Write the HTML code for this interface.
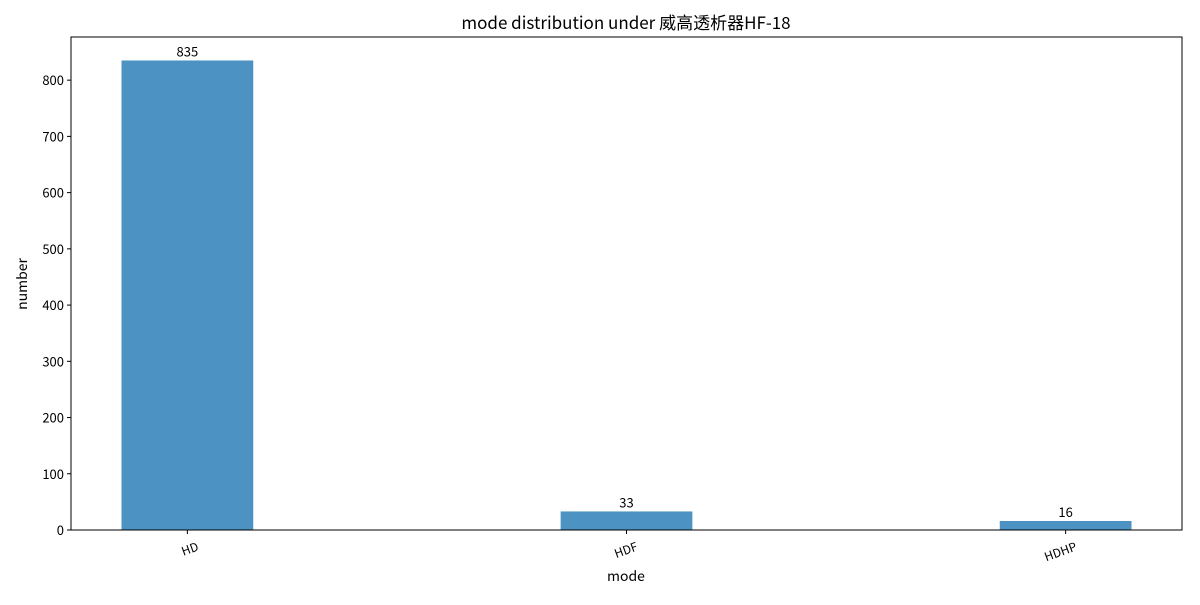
<!DOCTYPE html>
<html><head><meta charset="utf-8"><style>
body{margin:0;background:#fff;}
svg text{font-family:"Noto Sans CJK SC","Liberation Sans",sans-serif;fill:#000;}
</style></head><body>
<svg id="chart" width="1200" height="600">
<rect x="0" y="0" width="1200" height="600" fill="#fff"/>
<text x="626" y="29" font-size="17" text-anchor="middle">mode distribution under 威高透析器HF-18</text>
<g id="bars"></g>
<g id="yticks"></g>
<g id="xticks"></g>
<rect x="71" y="37" width="1111" height="493" fill="none" stroke="#000" stroke-width="1"/>
<text x="626" y="581" font-size="14" text-anchor="middle">mode</text>
<text transform="translate(27,284) rotate(-90)" font-size="14" text-anchor="middle">number</text>
</svg>
<script>
const categories = ["HD","HDF","HDHP"];
const values = [835,33,16];
const yTicks = [0,100,200,300,400,500,600,700,800];
const L=71,R=1182,T=37,B=530;
const yMax = Math.max(...values)*1.05;
const xMin=-0.265, xMax=categories.length-1+0.265;
const xs=i=>L+(i-xMin)/(xMax-xMin)*(R-L);
const ys=v=>B-v/yMax*(B-T);
const bw=0.3*(R-L)/(xMax-xMin);
const NS="http://www.w3.org/2000/svg";
const gb=document.getElementById('bars'),gy=document.getElementById('yticks'),gx=document.getElementById('xticks');
function mk(tag,attrs,parent,txt){const e=document.createElementNS(NS,tag);for(const k in attrs)e.setAttribute(k,attrs[k]);if(txt!==undefined)e.textContent=txt;parent.appendChild(e);return e;}
categories.forEach((c,i)=>{
  const cx=xs(i);
  const r=mk('rect',{x:cx-bw/2,y:ys(values[i]),width:bw,height:B-ys(values[i]),fill:'#4c93c3'},gb);
  
  
  const t=mk('text',{x:cx,y:ys(values[i])-4,'font-size':13,'text-anchor':'middle'},gb,values[i]);
  
  
  const tk=mk('line',{x1:cx,x2:cx,y1:B,y2:B+4,stroke:'#000'},gx);
  
  
  const lb=mk('text',{transform:`translate(${cx+12},${B+20}) rotate(-20)`,'font-size':12,'text-anchor':'end'},gx,c);
  
  
});
yTicks.forEach(v=>{
  const y=ys(v);
  const tk=mk('line',{x1:L-4,x2:L,y1:y,y2:y,stroke:'#000'},gy);
  
  
  const lb=mk('text',{x:L-7,y:y+5,'font-size':13,'text-anchor':'end'},gy,v);
  
  
});
</script>
</body></html>
